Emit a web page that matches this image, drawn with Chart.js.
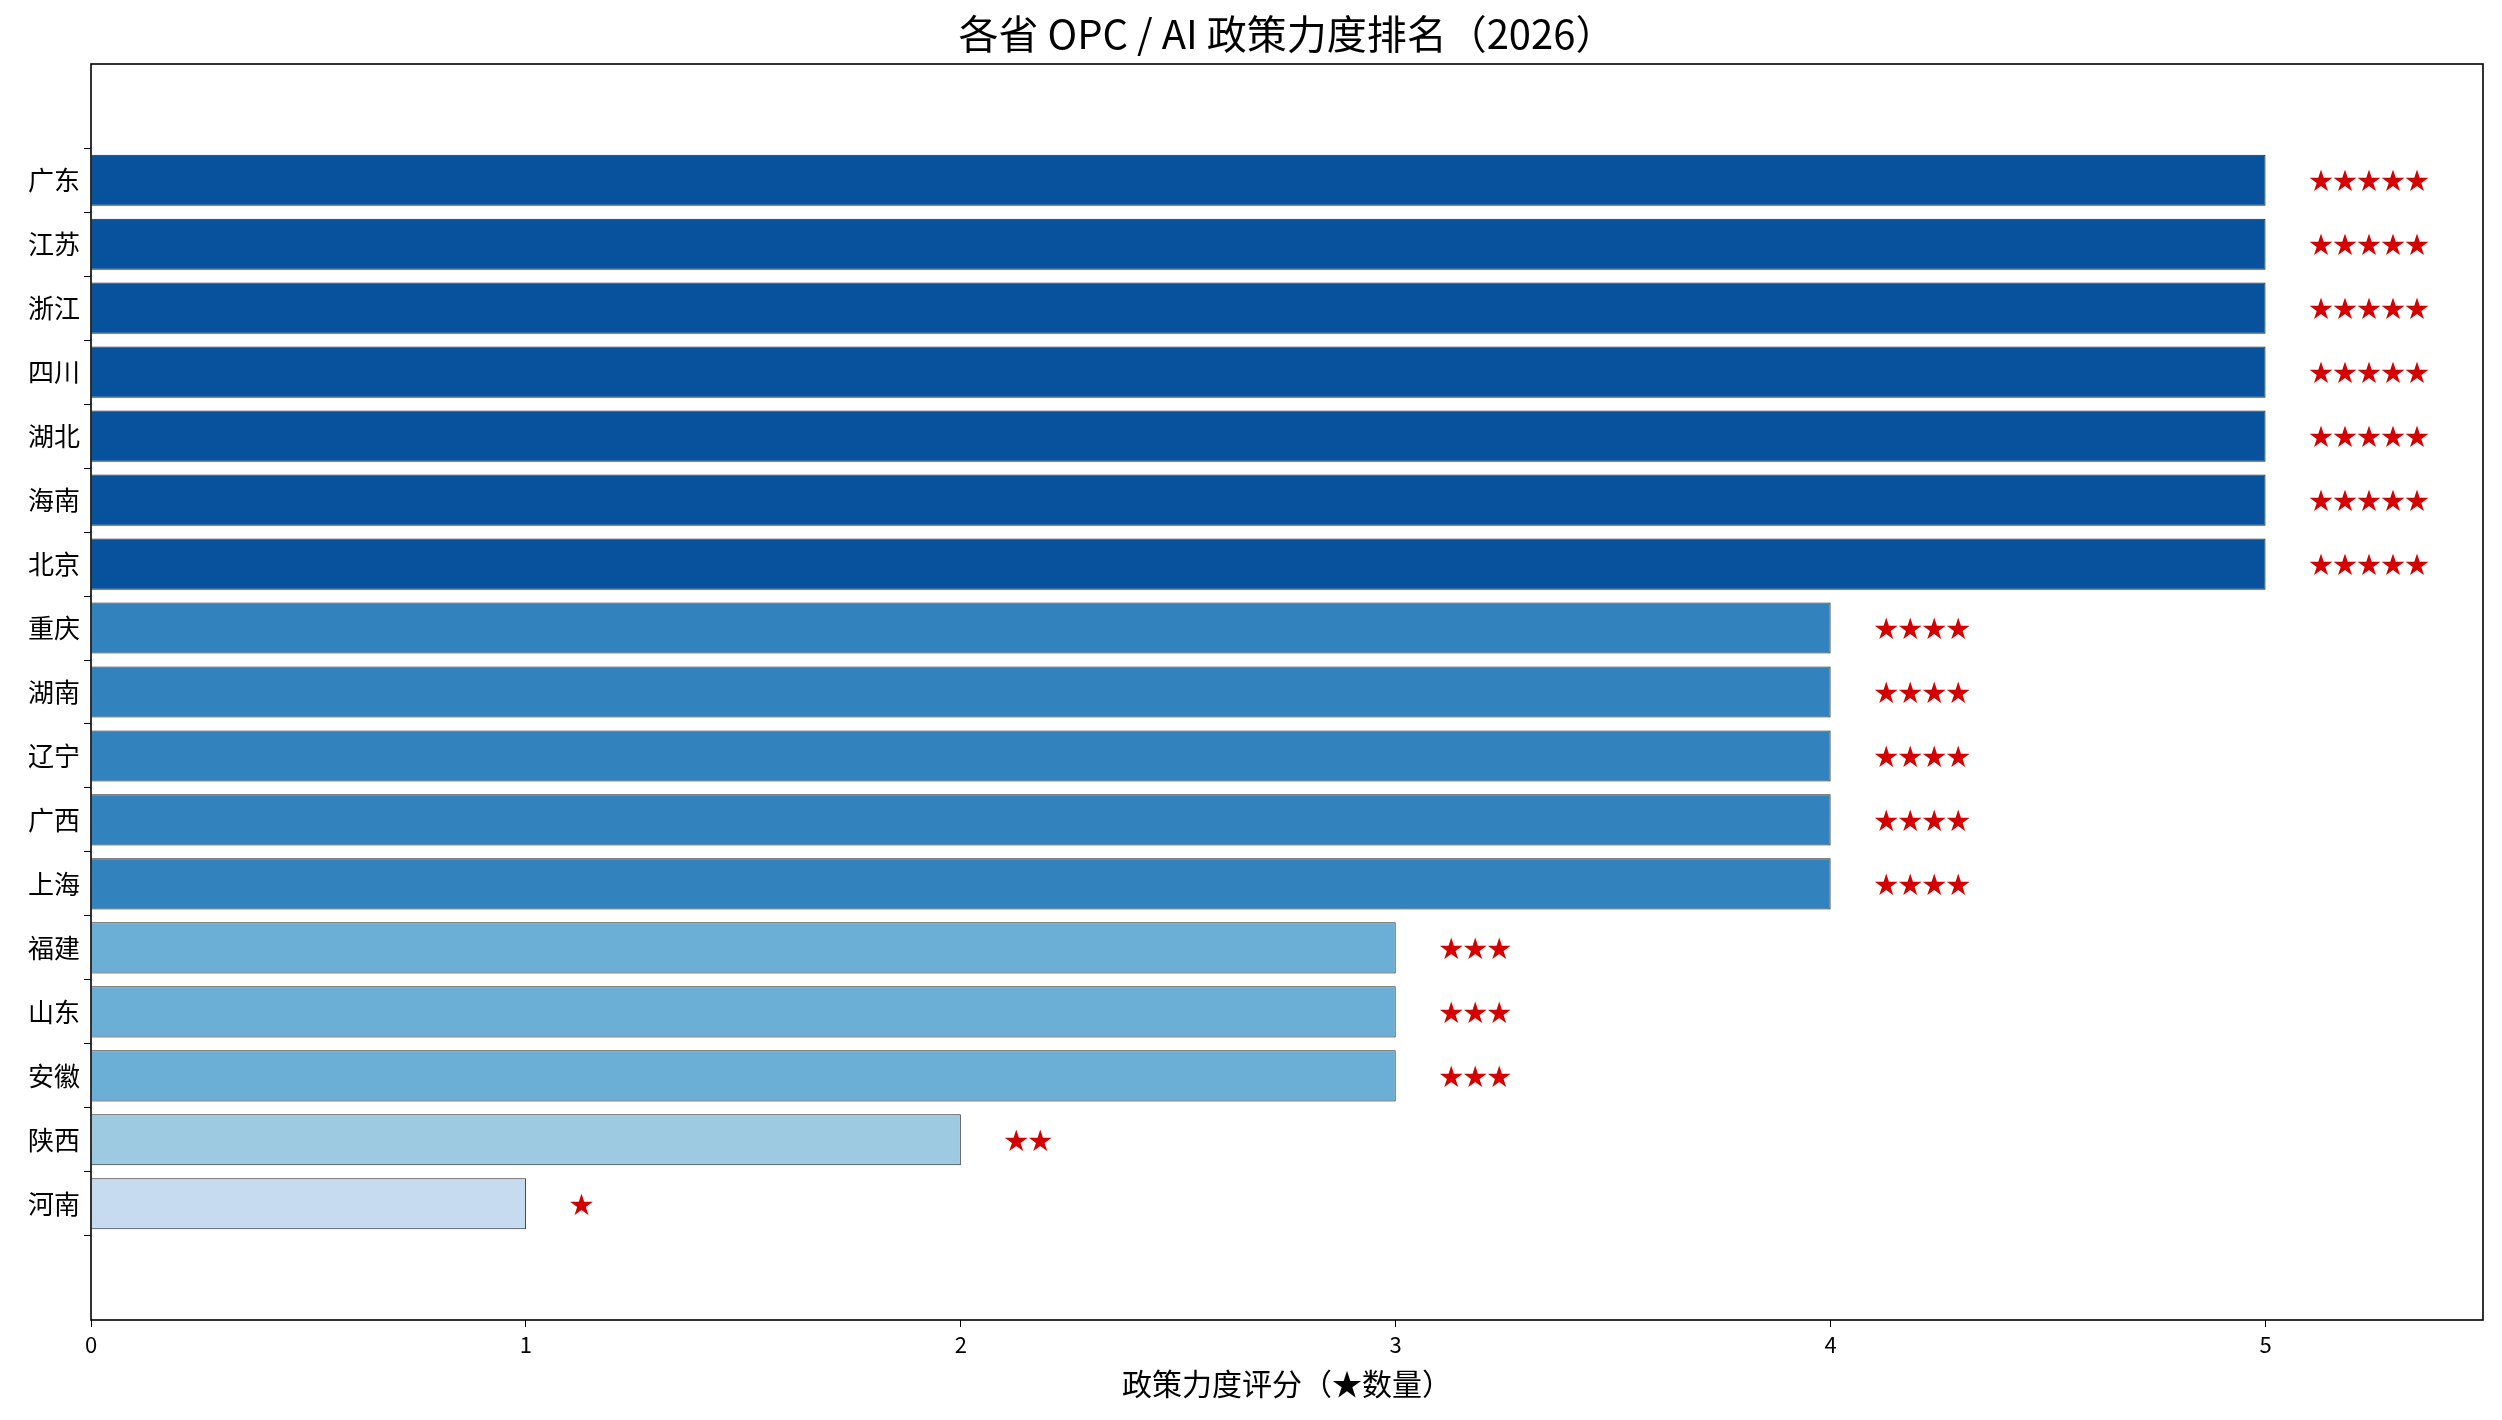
<!DOCTYPE html>
<html><head><meta charset="utf-8">
<script src="https://cdn.jsdelivr.net/npm/chart.js@4"></script>
<style>html,body{margin:0;padding:0;background:#fff}#w{width:2502px;height:1420px}</style>
</head><body><div id="w"><canvas id="c"></canvas></div>
<script>
const provinces = ["广东","江苏","浙江","四川","湖北","海南","北京","重庆","湖南","辽宁","广西","上海","福建","山东","安徽","陕西","河南"];
const scores = [5,5,5,5,5,5,5,4,4,4,4,4,3,3,3,2,1];
const xTicks = [0,1,2,3,4,5];
const colorByScore = {5:"#08519c",4:"#3182bd",3:"#6baed6",2:"#9ecae1",1:"#c6dbef"};
const FONT = "'Noto Sans CJK SC','Noto Sans',sans-serif";

const deco = {
  id:'deco',
  afterDatasetsDraw(chart){
    const {ctx, chartArea:a, scales:{x,y}} = chart;
    ctx.save();
    ctx.fillStyle = '#d40000';
    ctx.font = `24px ${FONT}`;
    ctx.textAlign='left'; ctx.textBaseline='middle';
    scores.forEach((v,i)=>{
      ctx.fillText('★'.repeat(v), x.getPixelForValue(v+0.1), y.getPixelForValue(i));
    });
    ctx.strokeStyle='#000'; ctx.lineWidth=1.6;
    ctx.strokeRect(a.left, a.top, a.right-a.left, a.bottom-a.top);
    ctx.fillStyle='#000';
    ctx.textAlign='center';
    ctx.font = `40px ${FONT}`;
    ctx.fillText('各省 OPC / AI 政策力度排名（2026）', (a.left+a.right)/2, 34);
    ctx.font = `30px ${FONT}`;
    ctx.fillText('政策力度评分（★数量）', (a.left+a.right)/2, 1384);
    ctx.restore();
  }
};

new Chart(document.getElementById('c'), {
  type:'bar',
  data:{datasets:[{
    data: scores.map((v,i)=>({x:v,y:i})),
    backgroundColor: scores.map(v=>colorByScore[v]),
    borderColor:'#222', borderWidth:1,
    barPercentage:0.8, categoryPercentage:1
  }]},
  options:{
    indexAxis:'y', responsive:true, maintainAspectRatio:false, animation:false,
    layout:{padding:{top:64,right:19,left:0,bottom:0}},
    plugins:{legend:{display:false},tooltip:{enabled:false}},
    scales:{
      x:{type:'linear',min:0,max:5.5,
        afterBuildTicks(s){s.ticks=xTicks.map(v=>({value:v}));},
        afterFit(s){s.height=100;},
        grid:{drawOnChartArea:false,tickLength:7,color:'#000'},
        border:{display:false},
        ticks:{color:'#000',font:{family:FONT,size:22},padding:4}},
      y:{type:'linear',reverse:true,min:-1.24,max:17.24,
        afterBuildTicks(s){s.ticks=provinces.map((p,i)=>({value:i}));},
        afterFit(s){s.width=91;},
        grid:{drawOnChartArea:false,tickLength:7,color:'#000'},
        border:{display:false},
        ticks:{color:'#000',font:{family:FONT,size:26},padding:4,
          callback:(v)=>provinces[v]??''}}
    }
  },
  plugins:[deco]
});
</script></body></html>
